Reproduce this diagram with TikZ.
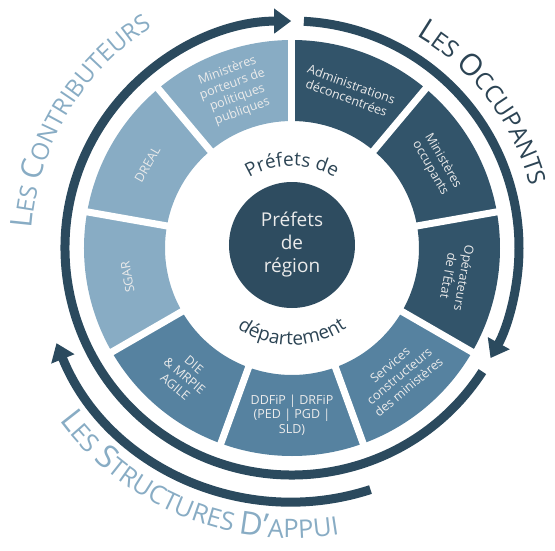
\documentclass[tikz,border=0pt]{standalone}
\usepackage{fontspec}
\setmainfont{Open Sans}
\usepackage{tikz}
\usetikzlibrary{arrows.meta}
\usetikzlibrary{decorations.text}

\definecolor{ringblue}{RGB}{43,74,94}
\definecolor{occblue}{RGB}{50,84,106}
\definecolor{appblue}{RGB}{86,130,160}
\definecolor{conblue}{RGB}{136,172,196}
\definecolor{coreblue}{RGB}{46,76,96}
\definecolor{wordblue}{RGB}{44,68,84}

\begin{document}
\begin{tikzpicture}[x=1pt, y=1pt,
    ring/.style={draw=ringblue, line width=9pt},
    ringtip/.style={-{Triangle[length=17pt, width=24pt]}},
    segtext/.style={text=white!92!black, font=\fontsize{12.5}{14.5}\selectfont, align=center, inner sep=0pt},
    curved/.style={decorate, decoration={text along path, text align=center, text={#1}}}]
    \useasboundingbox (-292,-302) rectangle (263,248);

    % nine sectors, 40 degrees each, clockwise from the top
    \foreach \a/\c in {90/occblue, 50/occblue, 10/occblue,
                       -30/appblue, -70/appblue, -110/appblue,
                       -150/conblue, 170/conblue, 130/conblue}
      \fill[\c] (\a:208) arc[start angle=\a, delta angle=-40, radius=208]
        -- ({\a-40}:127) arc[start angle=\a-40, delta angle=40, radius=127] -- cycle;
    % white gaps between the sectors
    \foreach \a in {90,50,...,-230}
      \draw[white, line width=7pt] (\a:118) -- (\a:216);

    % centre
    \node[circle, fill=coreblue, minimum size=126pt, inner sep=0pt, align=center,
          text=white!92!black, font=\fontsize{19}{23}\selectfont] (core) at (0,3) {Préfets\\de\\région};
    \path[curved={|\fontsize{19}{19}\selectfont|Préfets de}, decoration={text color=wordblue}]
      (150:82) arc[start angle=150, end angle=30, radius=82];
    \path[curved={|\fontsize{19}{19}\selectfont|département}, decoration={text color=wordblue}]
      (205:97) arc[start angle=205, end angle=335, radius=97];

    % occupants
    \node[segtext, rotate=-20] (admin) at (70:167) {Administrations\\déconcentrées};
    \node[segtext, rotate=-60] (minocc) at (30:167) {Ministères\\occupants};
    \node[segtext, rotate=-100] (oper) at (-10:167) {Opérateurs\\de l’État};
    % structures d'appui
    \node[segtext, rotate=40] (servcons) at (-50:167) {Services\\constructeurs\\des ministères};
    \node[segtext] (ddfip) at (-90:167) {DDFiP | DRFiP\\(PED | PGD |\\SLD)};
    \node[segtext, rotate=-40] (die) at (-130:167) {DIE\\\& MRPIE\\AGILE};
    % contributeurs
    \node[segtext, rotate=100] (sgar) at (190:167) {SGAR};
    \node[segtext, rotate=60] (dreal) at (150:167) {DREAL};
    \node[segtext, rotate=20] (minport) at (110:167) {Ministères\\porteurs de\\politiques\\publiques};

    % arrows round the wheel
    \draw[ring, ringtip] (-33:227) arc[start angle=-33, end angle=-269.8, radius=227];
    \draw[ring, ringtip] (87:227) arc[start angle=87, end angle=-29, radius=227];
    \draw[ring, ringtip] (-72:254) arc[start angle=-72, end angle=-158, radius=254];

    % outer titles, in small capitals
    \path[curved={|\fontsize{30}{30}\selectfont|L|\fontsize{24}{24}\selectfont|ES |\fontsize{30}{30}\selectfont|C|\fontsize{24}{24}\selectfont|ONTRIBUTEURS},
          decoration={text color=conblue}] (181:261) arc[start angle=181, end angle=117, radius=261];
    \path[curved={|\fontsize{30}{30}\selectfont|L|\fontsize{24}{24}\selectfont|ES |\fontsize{30}{30}\selectfont|O|\fontsize{24}{24}\selectfont|CCUPANTS},
          decoration={text color=wordblue}] (64:246) arc[start angle=64, end angle=10, radius=246];
    \path[curved={|\fontsize{32}{32}\selectfont|L|\fontsize{25.5}{25.5}\selectfont|ES |\fontsize{32}{32}\selectfont|S|\fontsize{25.5}{25.5}\selectfont|TRUCTURES |\fontsize{32}{32}\selectfont|D’|\fontsize{25.5}{25.5}\selectfont|APPUI},
          decoration={text color=conblue}] (212:290) arc[start angle=212, end angle=284, radius=290];
\end{tikzpicture}
\end{document}
